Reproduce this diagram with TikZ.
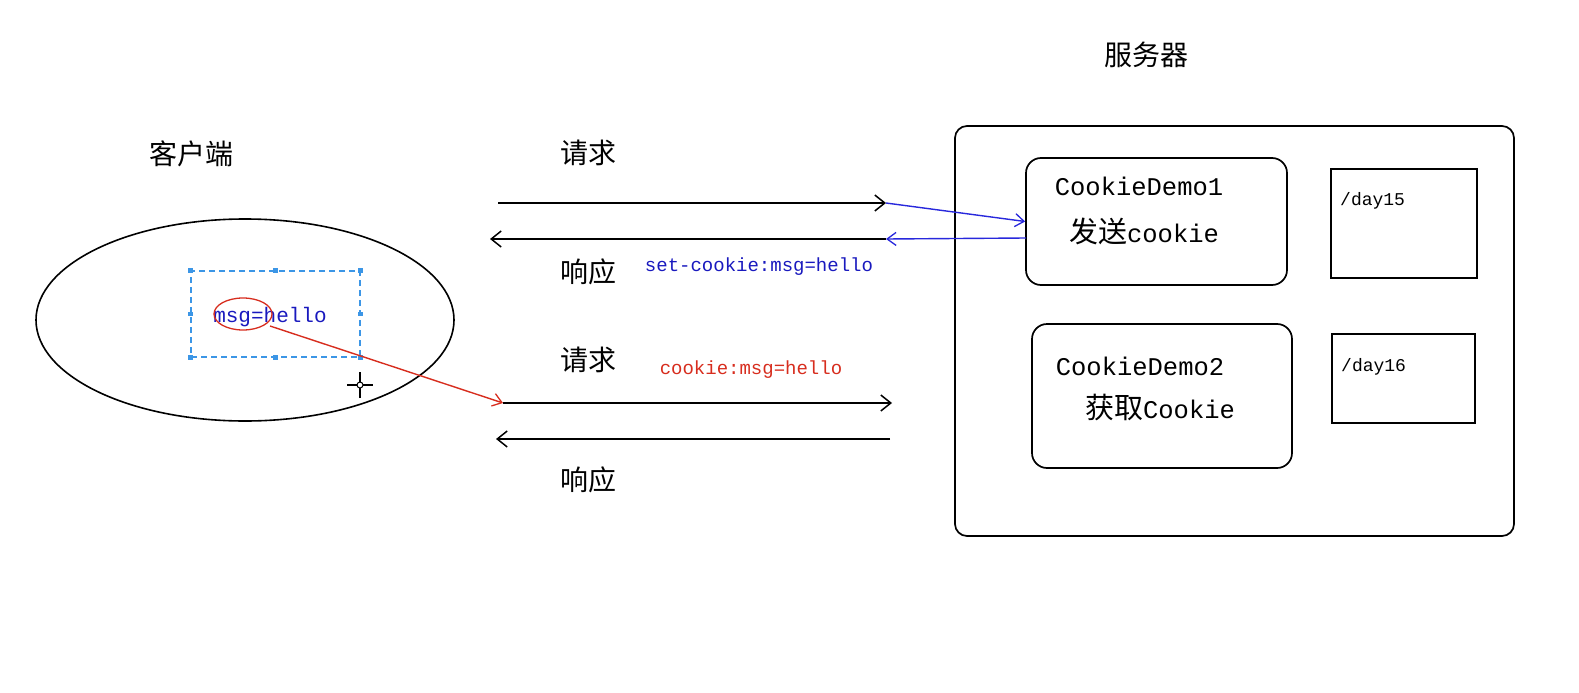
\documentclass[tikz,border=0pt]{standalone}
\usepackage{fontspec}
\setmainfont{Liberation Mono}
\newfontfamily\cjk{Noto Sans CJK SC}
\usetikzlibrary{arrows.meta,shapes.geometric}
\definecolor{tblue}{RGB}{25,25,190}
\definecolor{ablue}{RGB}{40,40,220}
\definecolor{tred}{RGB}{215,45,30}
\definecolor{dblue}{RGB}{60,150,230}
\begin{document}
\begin{tikzpicture}[x=1pt,y=-1pt,
  line/.style={line width=1.6pt},
  tip/.style={-{Straight Barb[length=10pt,width=16pt,line width=1.5pt]}},
  cjklabel/.style={font=\cjk\fontsize{28}{32}\selectfont, inner sep=0pt},
  monolabel/.style={font=\fontsize{25.5}{30}\selectfont, inner sep=0pt},
  smallmono/.style={font=\fontsize{19}{22}\selectfont, inner sep=0pt},
  servbox/.style={draw, line width=1.7pt, rounded corners=15pt, inner sep=0pt},
  pathbox/.style={draw, line width=1.7pt, inner sep=0pt},
  handle/.style={fill=dblue, inner sep=0pt, minimum size=4.5pt}
]
\useasboundingbox (0,0) rectangle (1579,693);

% titles
\node[cjklabel] (tserver) at (1146,55) {服务器};
\node[cjklabel] (tclient) at (191,154) {客户端};

% client
\node[draw, ellipse, line width=1.6pt, minimum width=418pt, minimum height=202pt, inner sep=0pt] (client) at (245,320) {};
\node[draw=dblue, dashed, line width=1.3pt, dash pattern=on 6pt off 4pt, minimum width=169pt, minimum height=86pt, inner sep=0pt] (sel) at (275.5,314) {};
\foreach \a in {north west,north,north east,east,south east,south,south west,west}
  \node[handle] at (sel.\a) {};
\node[smallmono, text=tblue, font=\fontsize{21}{24}\selectfont] (msg) at (270,317) {msg=hello};
\node[draw=tred, ellipse, line width=1.3pt, minimum width=58pt, minimum height=32pt, inner sep=0pt] (msgmark) at (243,314) {};

% cursor
\coordinate (cur) at (360,385);
\draw[line width=1.6pt] ([xshift=-13pt]cur) -- ([xshift=13pt]cur);
\draw[line width=1.6pt] ([yshift=-13pt]cur) -- ([yshift=13pt]cur);
\fill[white] (cur) circle (3pt);
\draw[line width=1pt] (cur) circle (3pt);

% server
\node[servbox, rounded corners=12pt, minimum width=559pt, minimum height=410pt] (server) at (1234.5,331) {};
\node[servbox, minimum width=261pt, minimum height=127pt] (d1) at (1156.5,221.5) {};
\node[monolabel] (d1a) at (1139,186) {CookieDemo1};
\node[monolabel] (d1b) at (1144,231) {{\cjk\fontsize{29}{32}\selectfont 发送}cookie};
\node[pathbox, minimum width=146pt, minimum height=109pt] (p1) at (1404,223.5) {};
\node[smallmono, font=\fontsize{18}{20}\selectfont, anchor=west] (p1t) at (1340,201) {/day15};

\node[servbox, minimum width=260pt, minimum height=144pt] (d2) at (1162,396) {};
\node[monolabel] (d2a) at (1140,366) {CookieDemo2};
\node[monolabel] (d2b) at (1160,408) {{\cjk\fontsize{29}{32}\selectfont 获取}Cookie};
\node[pathbox, minimum width=143pt, minimum height=89pt] (p2) at (1403.5,378.5) {};
\node[smallmono, font=\fontsize{18}{20}\selectfont, anchor=west] (p2t) at (1341,367) {/day16};

% first exchange
\coordinate (q1s) at (498,203);
\coordinate (q1e) at (886,203);
\coordinate (s1s) at (886,239);
\coordinate (s1e) at (490,239);
\coordinate (b1s) at (1026,238);
\draw[line, tip] (q1s) -- (q1e);
\draw[line, tip] (s1s) -- (s1e);
\draw[line width=1.4pt, ablue, -{Straight Barb[length=9pt,width=13pt,line width=1.3pt]}] (q1e) -- (d1.west);
\draw[line width=1.4pt, ablue, -{Straight Barb[length=9pt,width=13pt,line width=1.3pt]}] (b1s) -- (s1s);
\node[cjklabel] (lq1) at (588,153) {请求};
\node[cjklabel] (ls1) at (588,272) {响应};
\node[smallmono, text=tblue] (lset) at (759,267) {set-cookie:msg=hello};

% second exchange
\coordinate (q2s) at (503,403);
\coordinate (q2e) at (892,403);
\coordinate (s2s) at (890,439);
\coordinate (s2e) at (496,439);
\draw[line, tip] (q2s) -- (q2e);
\draw[line, tip] (s2s) -- (s2e);
\node[cjklabel] (lq2) at (588,360) {请求};
\node[cjklabel] (ls2) at (588,480) {响应};
\node[smallmono, text=tred] (lck) at (751,370) {cookie:msg=hello};

% red link
\coordinate (rs) at (270,326);
\draw[line width=1.4pt, tred, -{Straight Barb[length=9pt,width=13pt,line width=1.3pt]}] (rs) -- (q2s);
\end{tikzpicture}
\end{document}
